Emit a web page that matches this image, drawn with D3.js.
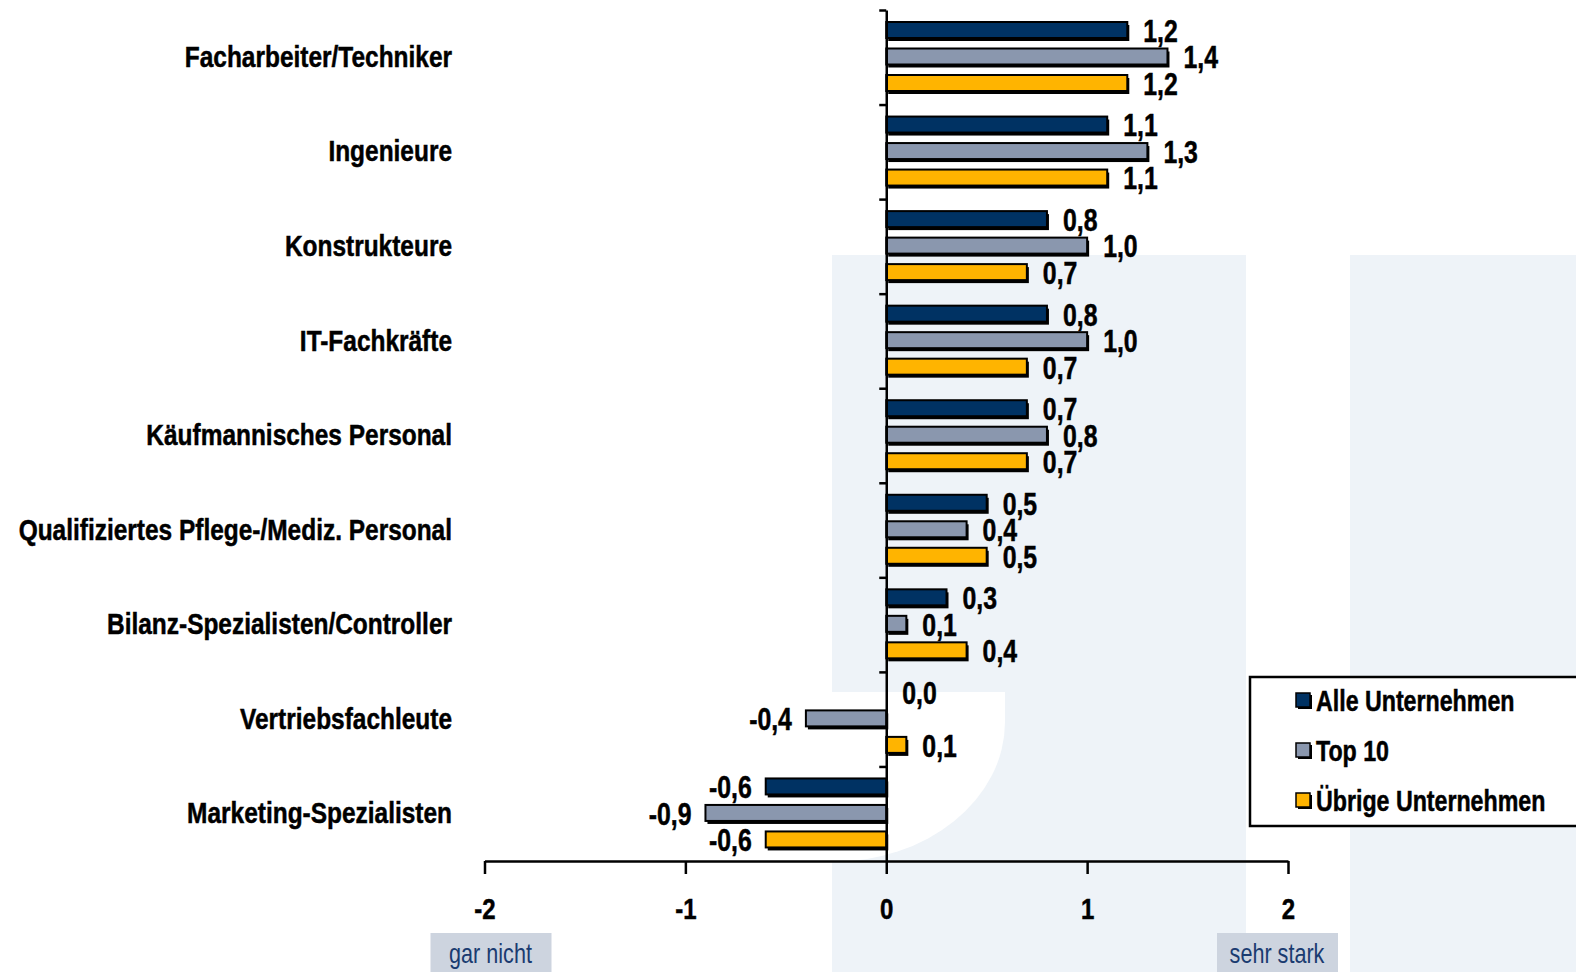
<!DOCTYPE html>
<html>
<head>
<meta charset="utf-8">
<script src="https://cdn.jsdelivr.net/npm/d3@7"></script>
<style>
  body { margin: 0; background: #fff; }
  svg { display: block; }
  text { font-family: "Liberation Sans", Arial, sans-serif; }
</style>
</head>
<body>
<figure id="chart" style="margin:0"></figure>
<script>
const categories = [
  "Facharbeiter/Techniker",
  "Ingenieure",
  "Konstrukteure",
  "IT-Fachkräfte",
  "Käufmannisches  Personal",
  "Qualifiziertes Pflege-/Mediz. Personal",
  "Bilanz-Spezialisten/Controller",
  "Vertriebsfachleute",
  "Marketing-Spezialisten"
];
const seriesNames = ["Alle Unternehmen", "Top 10", "Übrige Unternehmen"];
const alle    = [1.2, 1.1, 0.8, 0.8, 0.7, 0.5, 0.3, 0.0, -0.6];
const top10   = [1.4, 1.3, 1.0, 1.0, 0.8, 0.4, 0.1, -0.4, -0.9];
const uebrige = [1.2, 1.1, 0.7, 0.7, 0.7, 0.5, 0.4, 0.1, -0.6];
const xTicks = [-2, -1, 0, 1, 2];
const scaleLabels = ["gar nicht", "sehr stark"];

const colors = ["#003263", "#8a97ae", "#ffb400"];
const width = 1576, height = 972;
const SX = 0.8; // narrow glyphs

const svg = d3.select("figure#chart")
  .append("svg")
  .attr("width", width)
  .attr("height", height);

// background watermark
const bg = svg.append("g");
bg.append("rect").attr("x", 832).attr("y", 255).attr("width", 414).attr("height", 717).attr("fill", "#eef3f8");
bg.append("rect").attr("x", 1350).attr("y", 255).attr("width", 226).attr("height", 717).attr("fill", "#eef3f8");
bg.append("path")
  .attr("d", "M832,692 H1005 V722 A173,140 0 0 1 832,862 Z")
  .attr("fill", "#fff");

const data = categories.map((c, i) => ({ cat: c, values: [alle[i], top10[i], uebrige[i]] }));

const x = d3.scaleLinear().domain([-2, 2]).range([484.5, 1288]);
const y0 = d3.scaleBand().domain(categories).range([10, 861]);
const y1 = d3.scaleBand().domain([0, 1, 2]).range([12, 91.5]);
const barH = 16;

const loc = d3.formatLocale({ decimal: ",", thousands: ".", grouping: [3], currency: ["", "€"], minus: "-" });
const fmt = loc.format(".1f");

// bars
const groups = svg.append("g")
  .selectAll("g")
  .data(data)
  .enter()
  .append("g")
  .attr("transform", d => "translate(0," + y0(d.cat) + ")");

const bars = groups.selectAll("g.bar")
  .data(d => d.values.map((v, k) => ({ v: v, k: k })))
  .enter()
  .append("g")
  .attr("class", "bar");

bars.filter(d => d.v !== 0).append("rect")
  .attr("x", d => Math.min(x(0), x(d.v)) + 2)
  .attr("y", d => y1(d.k) + 3)
  .attr("width", d => Math.abs(x(d.v) - x(0)))
  .attr("height", barH)
  .attr("fill", "#000");

bars.filter(d => d.v !== 0).append("rect")
  .attr("x", d => Math.min(x(0), x(d.v)))
  .attr("y", d => y1(d.k))
  .attr("width", d => Math.abs(x(d.v) - x(0)))
  .attr("height", barH)
  .attr("fill", d => colors[d.k])
  .attr("stroke", "#000")
  .attr("stroke-width", 2);

bars.append("text")
  .attr("transform", d => {
    const tx = d.v < 0 ? x(d.v) - 14 : x(d.v) + 16;
    return "translate(" + tx + "," + (y1(d.k) + barH / 2 + 1) + ") scale(" + SX + ",1)";
  })
  .attr("dy", "0.35em")
  .attr("text-anchor", d => d.v < 0 ? "end" : "start")
  .attr("stroke", "#000")
  .attr("stroke-width", 0.5)
  .style("font-size", "31px")
  .style("font-weight", "bold")
  .text(d => fmt(d.v));

// vertical axis with category separators
const yIdx = d3.scaleLinear().domain([0, 9]).range([10, 861]);
svg.append("g")
  .attr("transform", "translate(" + x(0) + ",0)")
  .call(d3.axisLeft(yIdx).tickValues(d3.range(0, 9)).tickSize(7).tickSizeOuter(0).tickFormat(""))
  .call(g => g.selectAll("line, path").attr("stroke", "#000").attr("stroke-width", 2.5));

// category labels
svg.append("g")
  .attr("transform", "translate(452,0)")
  .call(d3.axisLeft(y0).tickSize(0).tickPadding(0))
  .call(g => g.select(".domain").remove())
  .call(g => g.selectAll("text")
    .attr("transform", "scale(0.815,1)")
    .attr("fill", "#000")
    .attr("stroke", "#000")
    .attr("stroke-width", 0.5)
    .style("font-size", "30px")
    .style("font-weight", "bold")
    .style("font-family", "'Liberation Sans', Arial, sans-serif"));

// x axis
svg.append("g")
  .attr("transform", "translate(0,861)")
  .call(d3.axisBottom(x).tickValues(xTicks).tickSize(13).tickSizeOuter(0).tickPadding(24).tickFormat(d3.format("d")))
  .call(g => g.selectAll("line, path").attr("stroke", "#000").attr("stroke-width", 2.5))
  .call(g => g.selectAll("text")
    .attr("transform", "scale(" + SX + ",1)")
    .attr("fill", "#000")
    .attr("stroke", "#000")
    .attr("stroke-width", 0.5)
    .text(d => loc.format("d")(d))
    .style("font-size", "30px")
    .style("font-weight", "bold")
    .style("font-family", "'Liberation Sans', Arial, sans-serif"));

// scale end labels
scaleLabels.forEach((t, i) => {
  const cx = i === 0 ? x(-2) + 6 : x(2) - 11;
  svg.append("rect")
    .attr("x", cx - 60).attr("y", 933)
    .attr("width", 121).attr("height", 39)
    .attr("fill", "#cdd4df");
  svg.append("text")
    .attr("transform", "translate(" + cx + ",953) scale(" + SX + ",1)")
    .attr("dy", "0.38em")
    .attr("text-anchor", "middle")
    .attr("fill", "#1a3b70")
    .style("font-size", "27px")
    .text(t);
});

// legend
const legend = svg.append("g").attr("transform", "translate(1250,677)");
legend.append("rect")
  .attr("width", 340).attr("height", 149)
  .attr("fill", "#fff")
  .attr("stroke", "#000")
  .attr("stroke-width", 2.5);

const items = legend.selectAll("g.item")
  .data(seriesNames)
  .enter()
  .append("g")
  .attr("class", "item")
  .attr("transform", (d, i) => "translate(46," + (24 + i * 50) + ")");

items.append("rect").attr("x", 2).attr("y", -6).attr("width", 14).attr("height", 14).attr("fill", "#000");
items.append("rect").attr("x", 0).attr("y", -8).attr("width", 14).attr("height", 14)
  .attr("fill", (d, i) => colors[i]).attr("stroke", "#000").attr("stroke-width", 1.5);
items.append("text")
  .attr("transform", "translate(20,0) scale(" + SX + ",1)")
  .attr("dy", "0.35em")
  .attr("stroke", "#000")
  .attr("stroke-width", 0.5)
  .style("font-size", "29px")
  .style("font-weight", "bold")
  .text(d => d);
</script>
</body>
</html>
